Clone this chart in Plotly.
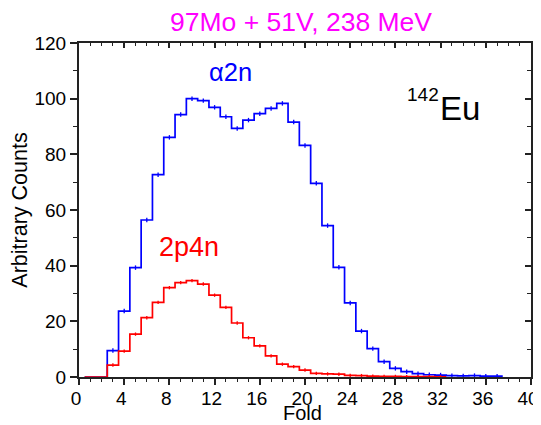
import numpy as np
import plotly.graph_objects as go

# Bin centres (Fold), histogram values
fold = list(range(1, 38))
alpha2n = [0, 0, 9.5, 23.7, 39.3, 56.4, 72.7, 86.1, 94.3, 100.0, 99.3, 96.9, 93.5,
           89.3, 92.3, 94.6, 96.5, 98.3, 91.6, 83.2, 69.6, 54.4, 39.4, 26.6, 16.5,
           10.2, 5.5, 3.1, 1.9, 1.2, 0.8, 0.7, 0.5, 0.4, 0.5, 0.3, 0.3]
fold_r = list(range(1, 33))
p2n4 = [0, 0, 4.3, 9.3, 15.4, 21.3, 26.8, 32.1, 33.9, 34.6, 33.4, 29.4, 25.0,
        19.4, 14.1, 11.2, 7.6, 4.6, 3.7, 2.5, 1.3, 1.1, 1.0, 0.6, 0.5, 0.3,
        0.2, 0.2, 0.1, 0.1, 0.1, 0.05]
err_blue = 0.8
err_red = 0.6

FONT = "Liberation Sans, Arial, sans-serif"


def steps(centres, vals):
    c = np.asarray(centres, float)
    v = np.asarray(vals, float)
    edges = np.append(c - 0.5, c[-1] + 0.5)
    return edges, np.append(v, v[-1])


fig = go.Figure()
for xs, ys, col, err in [(fold, alpha2n, "#0000ff", err_blue),
                         (fold_r, p2n4, "#ff0000", err_red)]:
    ex, ey = steps(xs, ys)
    fig.add_trace(go.Scatter(x=ex, y=ey, mode="lines", line=dict(color=col, width=1.7, shape="hv"),
                             hoverinfo="skip", showlegend=False))
    xa = np.asarray(xs, float)
    ya = np.asarray(ys, float)
    m = ya > 0
    fig.add_trace(go.Scatter(x=xa[m], y=ya[m], mode="markers", marker=dict(size=0.1, color=col),
                             error_y=dict(type="constant", value=err, width=0, color=col, thickness=1.3),
                             showlegend=False))

# invisible trace to activate mirrored axes
fig.add_trace(go.Scatter(x=[0], y=[0], xaxis="x2", yaxis="y2", mode="markers",
                         marker=dict(opacity=0), showlegend=False, hoverinfo="skip"))

axis_common = dict(showgrid=False, zeroline=False, showline=True, linecolor="#222",
                   linewidth=2, tickcolor="#222", tickwidth=1.5, automargin=False)

fig.update_layout(
    width=533, height=417,
    margin=dict(l=71, r=10, t=35, b=48),
    paper_bgcolor="white", plot_bgcolor="white",
    font=dict(family=FONT, color="black"),
    xaxis=dict(range=[0, 40], tick0=0, dtick=4, ticks="outside", ticklen=6,
               ticklabeloverflow="allow", ticklabelstandoff=-3, ticklabelshift=-3,
               minor=dict(dtick=1, ticks="outside", ticklen=3, tickcolor="#222", tickwidth=1),
               tickfont=dict(size=19), **axis_common),
    xaxis2=dict(range=[0, 40], overlaying="x", side="top", tick0=0, dtick=4, ticks="inside",
                ticklen=5, showticklabels=False,
                minor=dict(dtick=1, ticks="inside", ticklen=3, tickcolor="#222", tickwidth=1),
                **axis_common),
    yaxis=dict(range=[0, 120], tick0=0, dtick=20, ticks="outside", ticklen=7,
               ticklabeloverflow="allow",
               minor=dict(dtick=10, ticks="outside", ticklen=4, tickcolor="#222", tickwidth=1),
               tickfont=dict(size=19),
               title=dict(text="Arbitrary Counts", font=dict(size=21.5), standoff=6),
               **axis_common),
    yaxis2=dict(range=[0, 120], overlaying="y", side="right", tick0=0, dtick=20, ticks="inside",
                ticklen=6, showticklabels=False,
                minor=dict(dtick=10, ticks="inside", ticklen=4, tickcolor="#222", tickwidth=1),
                **axis_common),
)

ann = [
    dict(text="97Mo + 51V, 238 MeV", xref="paper", yref="paper", x=0.492, y=1.064,
         font=dict(size=26.5, color="#ff00ff")),
    dict(text="Fold", xref="paper", yref="paper", x=0.494, y=-0.109,
         font=dict(size=20, color="black")),
    dict(text="α2n", xref="x", yref="y", x=13.4, y=109.5, font=dict(size=25.5, color="#0000ff")),
    dict(text="2p4n", xref="x", yref="y", x=9.75, y=46.6, font=dict(size=27, color="#ff0000")),
    dict(text="142", xref="x", yref="y", x=30.4, y=101.6, font=dict(size=19, color="black")),
    dict(text="Eu", xref="x", yref="y", x=33.7, y=96.6, font=dict(size=33, color="black")),
    dict(text="RML 4-May-2007", xref="paper", yref="paper", x=1.012, y=0.122, textangle=-90,
         font=dict(size=8, color="#33ff33")),
]
for a in ann:
    fig.add_annotation(showarrow=False, xanchor="center", yanchor="middle", **a)

fig.write_html("out.html")
